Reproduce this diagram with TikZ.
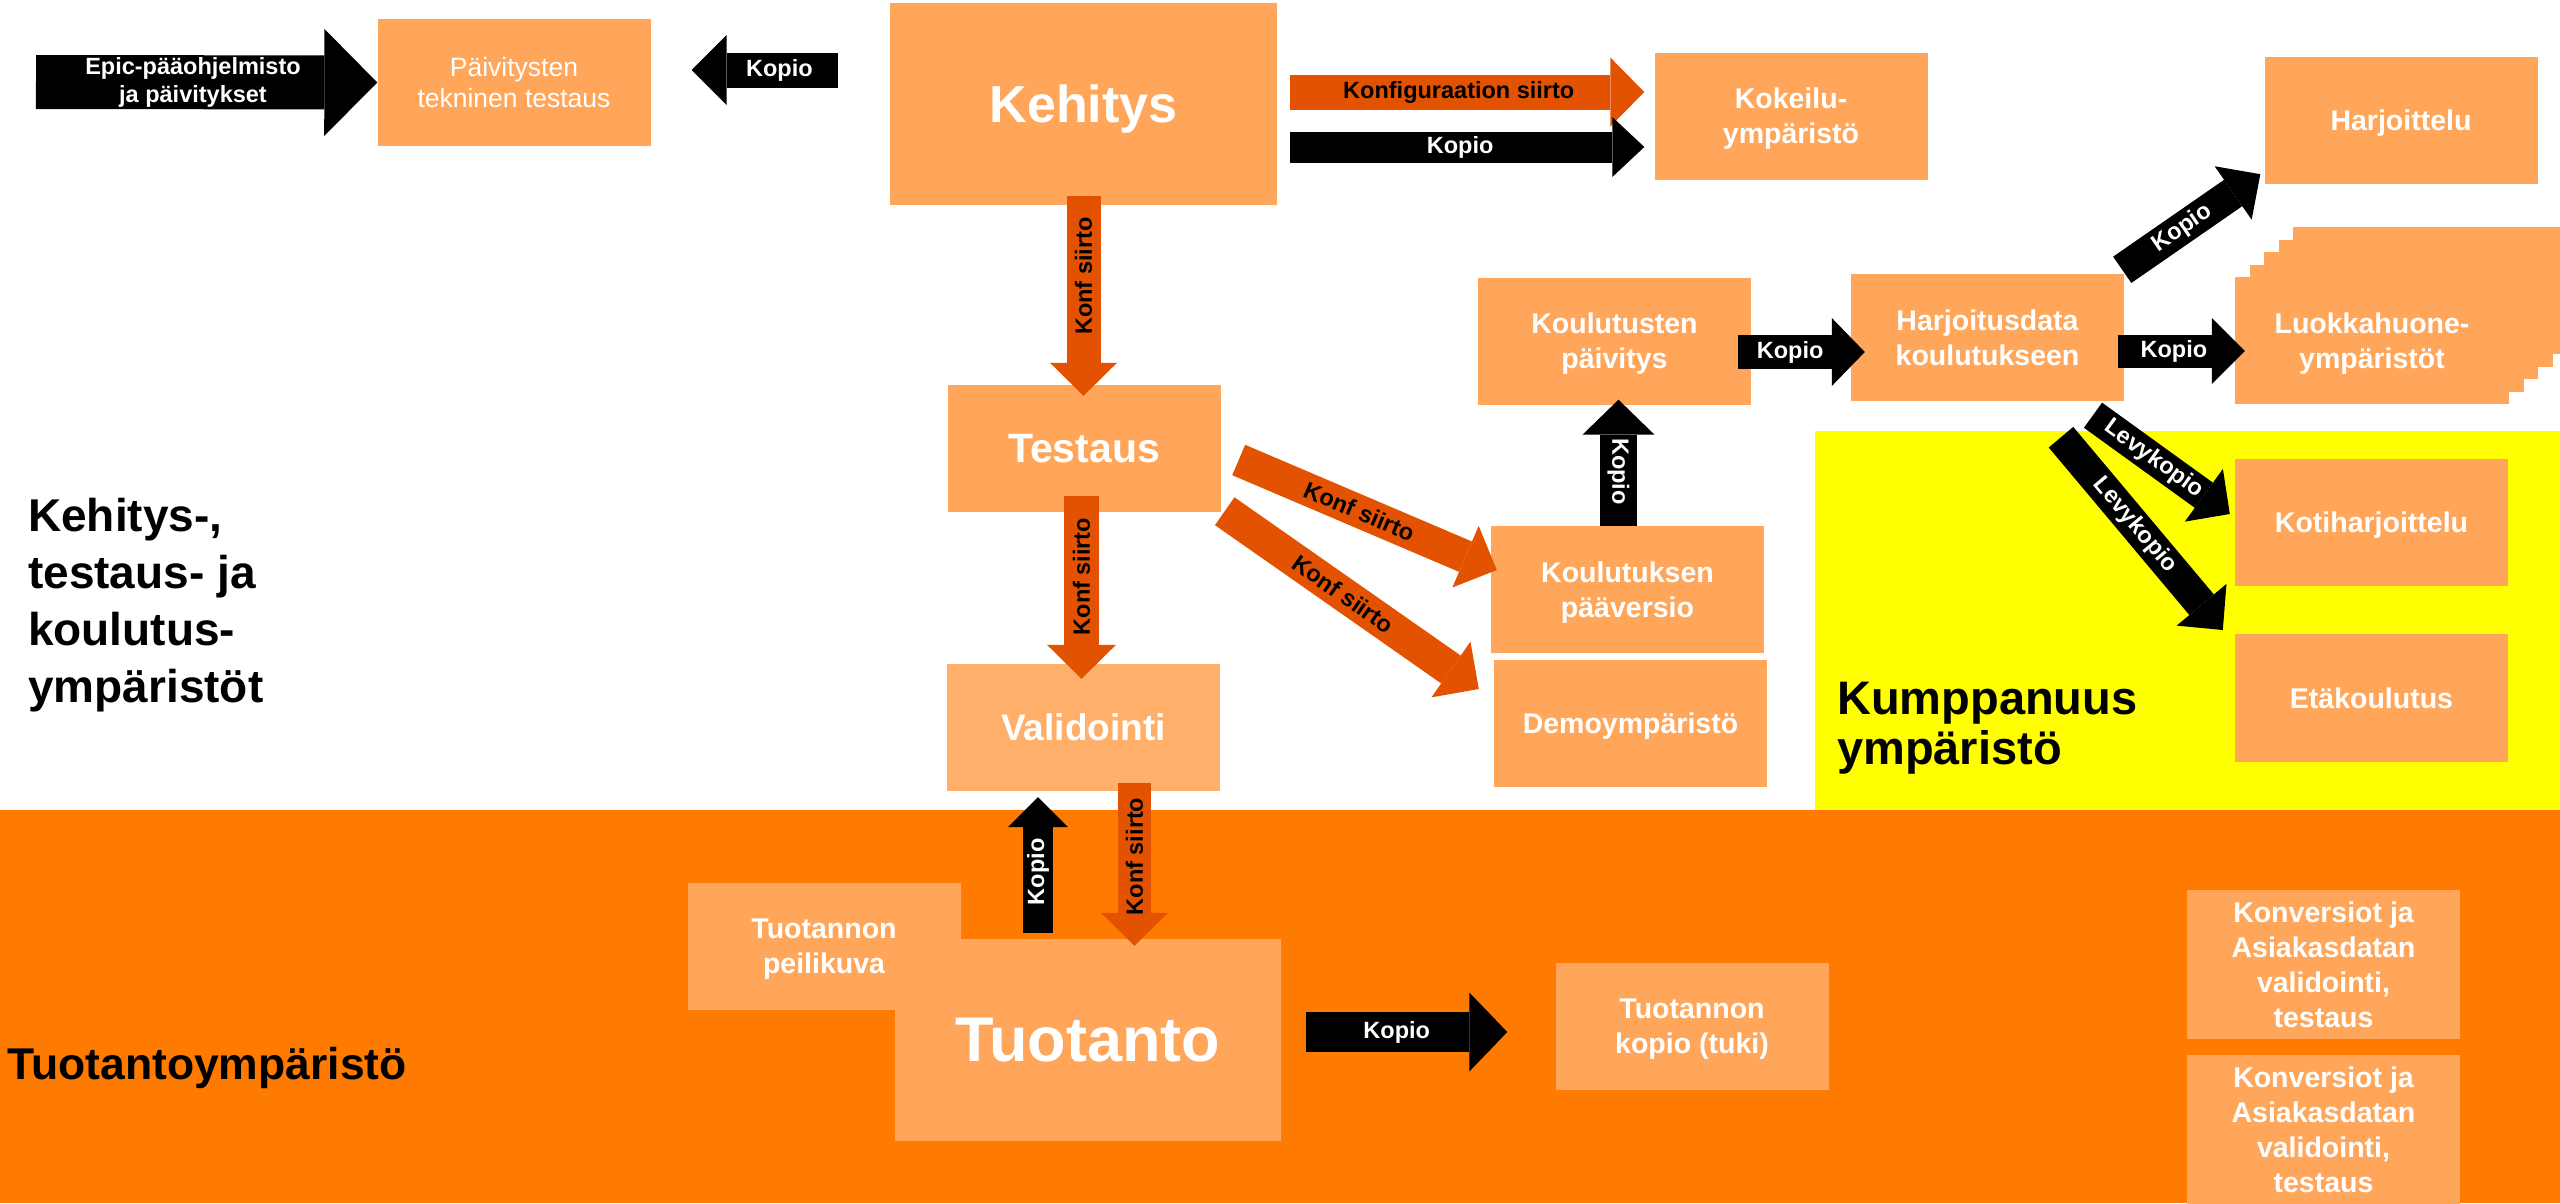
\documentclass[tikz,border=0pt]{standalone}
\usepackage{fontspec}
\setmainfont{Liberation Sans}
\usetikzlibrary{arrows.meta,calc}
\definecolor{boxor}{HTML}{FFA65A}
\definecolor{valior}{HTML}{FFAF6A}
\definecolor{tuotor}{HTML}{FF7A00}
\definecolor{konfor}{HTML}{E35200}
\definecolor{keltainen}{HTML}{FFFF00}

\begin{document}
\begin{tikzpicture}[x=1pt, y=-1pt,
	ymp/.style={fill=#1, text=white, font=\bfseries\fontsize{28.5}{35}\selectfont, align=center,
		inner sep=0pt, text depth=0pt, minimum width=273pt, minimum height=127pt},
	ymp/.default=boxor,
	iso/.style={minimum width=387pt, minimum height=202pt},
	musta/.style n args={3}{draw=black, line width=#1pt, -{Triangle[width=#2pt,length=#3pt,line width=0pt]}},
	konf/.style n args={3}{draw=konfor, line width=#1pt, -{Triangle[width=#2pt,length=#3pt,line width=0pt]}},
	lbl/.style={text=white, font=\bfseries\fontsize{23.5}{28}\selectfont, inner sep=0pt, align=center},
	lblm/.style={lbl, text=black},
	otsikko/.style={text=black, font=\bfseries\fontsize{46}{57}\selectfont, inner sep=0pt, align=left}]
	\useasboundingbox (0,0) rectangle (2560,1203);
	\fill[white] (0,0) rectangle (2560,1203);
	\fill[tuotor] (0,810) rectangle (2560,1203);
	\fill[keltainen] (1815,431) rectangle (2560,810);

	\node[otsikko, anchor=north west] (kehotsikko) at (28,498) {Kehitys-,\\testaus- ja\\koulutus-\\ympäristöt};
	\node[otsikko, anchor=base west, font=\bfseries\fontsize{44.5}{50}\selectfont] (tuototsikko) at (7,1079) {Tuotantoympäristö};
	\node[otsikko, anchor=north west, font=\bfseries\fontsize{47}{50}\selectfont] (kumpotsikko) at (1837,682) {Kumppanuus\\ympäristö};

	\node[ymp, font=\fontsize{26.5}{31}\selectfont] (paivtest) at (514,82.5) {Päivitysten\\tekninen testaus};
	\node[ymp, iso, font=\bfseries\fontsize{52}{60}\selectfont] (kehitys) at (1083.5,104) {Kehitys};
	\node[ymp] (kokeilu) at (1791,116) {Kokeilu-\\ympäristö};
	\node[ymp] (harjoittelu) at (2401,120.5) {Harjoittelu};
	\node[ymp, font=\bfseries\fontsize{41}{48}\selectfont] (testaus) at (1084,448.5) {Testaus};
	\node[ymp=valior, font=\bfseries\fontsize{37}{44}\selectfont] (validointi) at (1083.5,727.5) {Validointi};
	\node[ymp] (kpaiv) at (1614.5,341) {Koulutusten\\päivitys};
	\node[ymp] (hdata) at (1987.5,337.5) {Harjoitusdata\\koulutukseen};
	\foreach \k in {4,3,2,1}
		\fill[boxor] (2235+14.5*\k, 277-12.5*\k) rectangle + (274,127);
	\node[ymp, minimum width=274pt] (luokka) at (2372,340.5) {Luokkahuone-\\ympäristöt};
	\node[ymp] (kpaa) at (1627.5,589.5) {Koulutuksen\\pääversio};
	\node[ymp] (demo) at (1630.5,723.5) {Demoympäristö};
	\node[ymp] (koti) at (2371.5,522.5) {Kotiharjoittelu};
	\node[ymp, minimum height=128pt] (eta) at (2371.5,698) {Etäkoulutus};
	\node[ymp] (peili) at (824,946.5) {Tuotannon\\peilikuva};
	\node[ymp, iso, minimum width=386pt, font=\bfseries\fontsize{63}{70}\selectfont] (tuotanto) at (1088,1040) {Tuotanto};
	\node[ymp] (tkopio) at (1692,1026.5) {Tuotannon\\kopio (tuki)};
	\node[ymp, minimum height=149pt] (konv1) at (2323.5,964.5) {Konversiot ja\\Asiakasdatan\\validointi,\\testaus};
	\node[ymp, minimum height=149pt] (konv2) at (2323.5,1129.5) {Konversiot ja\\Asiakasdatan\\validointi,\\testaus};

	\coordinate (epic) at (36,82);
	\draw[musta={54}{107}{53}] (epic) -- (paivtest.west) node[pos=0.46, lbl]{Epic-pääohjelmisto\\ja päivitykset};
	\draw[musta={35}{70}{35}] ($(kehitys.west)+(-52,-34)$) -- ($(paivtest.east)+(41,-12.5)$) node[pos=0.4, lbl]{Kopio};
	\draw[konf={35}{69}{34}] ($(kehitys.east)+(13,-12)$) -- ($(kokeilu.west)+(-10,-24)$) node[pos=0.476, lblm]{Konfiguraation siirto};
	\draw[musta={31}{60}{32}] ($(kehitys.east)+(13,43)$) -- ($(kokeilu.west)+(-10,31)$) node[pos=0.48, lbl]{Kopio};
	\draw[konf={34}{67}{33}] ($(kehitys.south)+(0,-9)$) -- ($(testaus.north)+(-0.5,11)$) node[pos=0.4, lblm, rotate=90]{Konf siirto};
	\draw[konf={35}{69}{34}] ($(testaus.south)+(-2.5,-16)$) -- ($(validointi.north)+(-2,15)$) node[pos=0.44, lblm, rotate=90]{Konf siirto};
	\draw[konf={33}{67}{34}] ($(testaus.east)+(18,11.5)$) -- ($(kpaa.west)+(6,-19.5)$) node[pos=0.467, lblm, sloped]{Konf siirto};
	\draw[konf={34}{68}{34}] ($(testaus.south east)+(4,-1)$) -- ($(demo.west)+(-15,-34.5)$) node[pos=0.466, lblm, sloped]{Konf siirto};
	\draw[musta={37}{72}{35}] ($(kpaa.north)+(-9,0)$) -- ($(kpaiv.south)+(4,-5)$) node[pos=0.43, lbl, rotate=-90]{Kopio};
	\draw[musta={34}{68}{33}] ($(kpaiv.east)+(-13,11)$) -- ($(hdata.west)+(14,14.5)$) node[pos=0.41, lbl]{Kopio};
	\draw[musta={33}{66}{33}] ($(hdata.east)+(-6,13.5)$) -- ($(luokka.west)+(10,10.5)$) node[pos=0.44, lbl]{Kopio};
	\draw[musta={32}{65}{33}] ($(hdata.north east)+(-2,-4)$) -- ($(harjoittelu.south west)+(-4,-10)$) node[pos=0.434, lbl, sloped]{Kopio};
	\draw[musta={31}{65}{32}] ($(hdata.south)+(105.5,14)$) -- ($(koti.west)+(-5,-8.5)$) node[pos=0.444, lbl, sloped]{Levykopio};
	\draw[musta={32}{65}{33}] ($(hdata.south)+(73.5,36)$) -- ($(eta.west)+(-12,-68)$) node[pos=0.457, lbl, sloped]{Levykopio};
	\draw[musta={30}{60}{30}] ($(tuotanto.north)+(-50,-6)$) -- ($(validointi.south)+(-45.5,6)$) node[pos=0.45, lbl, rotate=90]{Kopio};
	\draw[konf={33}{67}{33}] ($(validointi.south)+(51,-8)$) -- ($(tuotanto.north)+(46.5,7)$) node[pos=0.45, lblm, rotate=90]{Konf siirto};
	\draw[musta={40}{79}{38}] ($(tuotanto.east)+(25,-8)$) -- ($(tkopio.west)+(-48,5.5)$) node[pos=0.45, lbl]{Kopio};
\end{tikzpicture}
\end{document}
